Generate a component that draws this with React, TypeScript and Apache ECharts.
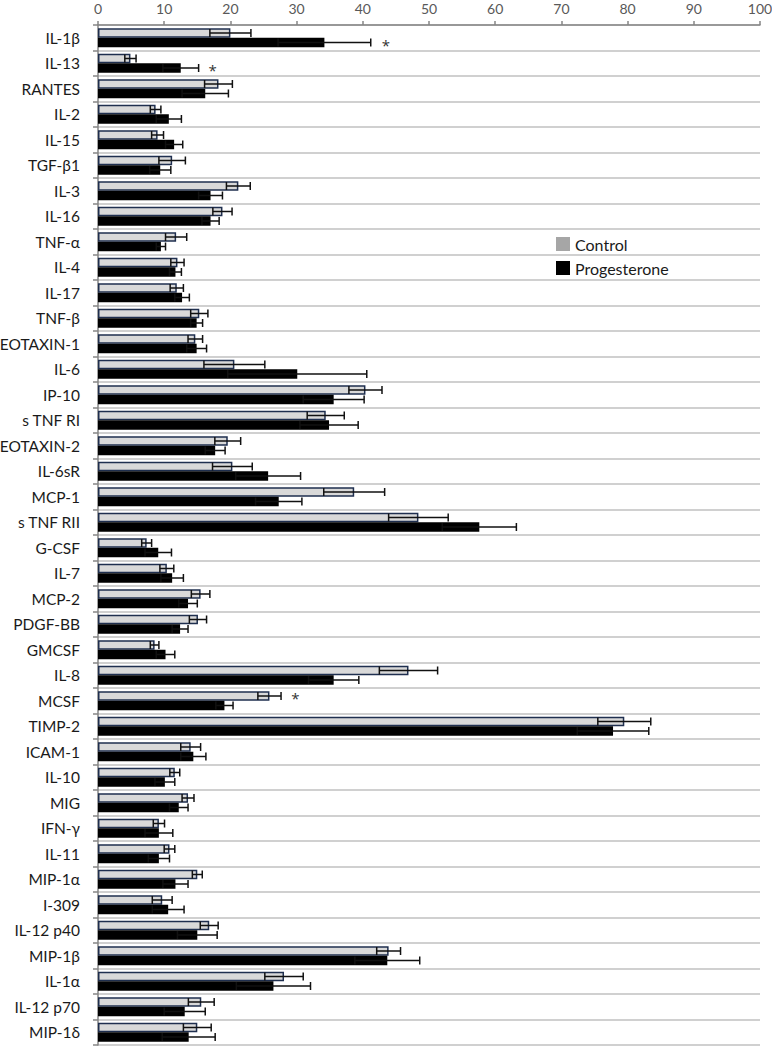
import React, { useEffect, useRef } from "react";
import * as echarts from "echarts";

const categories = [
  "IL-1β", "IL-13", "RANTES", "IL-2", "IL-15", "TGF-β1", "IL-3", "IL-16", "TNF-α", "IL-4",
  "IL-17", "TNF-β", "EOTAXIN-1", "IL-6", "IP-10", "s TNF RI", "EOTAXIN-2", "IL-6sR", "MCP-1", "s TNF RII",
  "G-CSF", "IL-7", "MCP-2", "PDGF-BB", "GMCSF", "IL-8", "MCSF", "TIMP-2", "ICAM-1", "IL-10",
  "MIG", "IFN-γ", "IL-11", "MIP-1α", "I-309", "IL-12 p40", "MIP-1β", "IL-1α", "IL-12 p70", "MIP-1δ",
];

const controlMean = [
  20.0, 4.9, 18.2, 8.7, 9.0, 11.2, 21.2, 18.8, 11.8, 12.0,
  11.9, 15.3, 14.7, 20.6, 40.4, 34.4, 19.6, 20.3, 38.7, 48.4,
  7.35, 10.4, 15.5, 15.1, 8.55, 46.9, 25.9, 79.5, 14.0, 11.6,
  13.6, 9.2, 10.8, 15.0, 9.7, 16.8, 43.9, 28.1, 15.6, 15.0,
];
const controlErr = [
  3.1, 0.85, 2.1, 0.8, 0.9, 2.0, 1.8, 1.45, 1.6, 1.0,
  1.0, 1.3, 1.1, 4.6, 2.5, 2.8, 1.95, 3.0, 4.6, 4.5,
  0.75, 1.05, 1.4, 1.3, 0.65, 4.4, 1.75, 4.0, 1.5, 0.75,
  0.9, 0.85, 0.8, 0.75, 1.5, 1.35, 1.8, 2.9, 1.95, 2.1,
];
const progMean = [
  34.2, 12.5, 16.2, 10.7, 11.5, 9.4, 17.0, 17.0, 9.5, 11.7,
  12.7, 14.9, 14.9, 30.1, 35.6, 34.9, 17.7, 25.7, 27.3, 57.6,
  9.1, 11.2, 13.6, 12.4, 10.2, 35.6, 19.1, 77.8, 14.4, 10.1,
  12.2, 9.2, 9.2, 11.7, 10.6, 15.0, 43.7, 26.5, 13.1, 13.7,
];
const progErr = [
  7.0, 2.7, 3.5, 1.9, 1.3, 1.6, 1.8, 1.3, 0.7, 0.9,
  1.1, 0.9, 1.5, 10.5, 4.6, 4.4, 1.5, 4.9, 3.5, 5.6,
  2.0, 1.7, 1.4, 1.2, 1.4, 3.8, 1.3, 5.4, 1.9, 1.5,
  1.4, 2.1, 1.6, 1.9, 2.4, 3.0, 4.9, 5.6, 3.1, 4.0,
];

// significance markers
const sigCategories = ["IL-1β", "IL-13", "MCSF"];
const sigSeries = ["Progesterone", "Progesterone", "Control"];
const sigX = [43.5, 17.3, 29.8];

const xTicks = { min: 0, max: 100, interval: 10 };

const BAR_W = 9.5;
const FONT = "Lato, 'Noto Sans', sans-serif";

export default function App() {
  const ref = useRef<HTMLDivElement>(null);

  useEffect(() => {
    if (!ref.current) return;
    const chart = echarts.init(ref.current, null, { renderer: "svg" });

    const errData = (means: number[], errs: number[]) =>
      means.map((m, i) => [i, m - errs[i], m + errs[i]]);

    const makeErrSeries = (name: string, means: number[], errs: number[], offset: number) => ({
      type: "custom",
      name: name + " error",
      silent: true,
      z: 5,
      data: errData(means, errs),
      encode: { y: 0, x: [1, 2] },
      renderItem: (params: any, api: any) => {
        const c = api.value(0);
        const lo = api.coord([api.value(1), c]);
        const hi = api.coord([api.value(2), c]);
        const y = lo[1] + offset;
        const h = 4;
        const style = { stroke: "#111", lineWidth: 1.5 };
        return {
          type: "group",
          children: [
            { type: "line", shape: { x1: lo[0], y1: y, x2: hi[0], y2: y }, style },
            { type: "line", shape: { x1: lo[0], y1: y - h, x2: lo[0], y2: y + h }, style },
            { type: "line", shape: { x1: hi[0], y1: y - h, x2: hi[0], y2: y + h }, style },
          ],
        };
      },
    });

    const option: any = {
      animation: false,
      textStyle: { fontFamily: FONT },
      grid: { left: 98, right: 12, top: 25, bottom: 3, containLabel: false, outerBoundsMode: "none" },
      legend: {
        orient: "vertical",
        left: 556,
        top: 236,
        padding: 0,
        itemWidth: 14,
        itemHeight: 14,
        itemGap: 8,
        icon: "rect",
        selectedMode: false,
        textStyle: { fontSize: 16, color: "#1a1a1a", fontFamily: FONT },
        data: [
          { name: "Control", itemStyle: { color: "#a6a6a6", borderWidth: 0 } },
          { name: "Progesterone", itemStyle: { color: "#000000", borderWidth: 0 } },
        ],
      },
      xAxis: {
        type: "value",
        position: "top",
        min: xTicks.min,
        max: xTicks.max,
        interval: xTicks.interval,
        axisLine: { show: true, lineStyle: { color: "#868686", width: 1.5 } },
        axisTick: { show: true, length: 4, lineStyle: { color: "#868686", width: 1.5 } },
        axisLabel: { fontSize: 14, color: "#595959", margin: 10, fontFamily: FONT },
        splitLine: { show: false },
      },
      yAxis: {
        type: "category",
        inverse: true,
        data: categories,
        axisLine: { show: true, lineStyle: { color: "#868686", width: 1.5 } },
        axisTick: { show: true, length: 5, interval: 0, lineStyle: { color: "#868686", width: 1.5 } },
        axisLabel: { fontSize: 15.5, color: "#1a1a1a", margin: 18, interval: 0, fontFamily: FONT },
        splitLine: { show: true, interval: 0, lineStyle: { color: "#c0c0c0", width: 1.5 } },
      },
      series: [
        {
          type: "bar",
          name: "Control",
          data: controlMean,
          barWidth: BAR_W,
          barGap: "0%",
          itemStyle: { color: "#d9d9d9", borderColor: "#1f2f4f", borderWidth: 1.5 },
          z: 2,
        },
        {
          type: "bar",
          name: "Progesterone",
          data: progMean,
          barWidth: BAR_W,
          barGap: "0%",
          itemStyle: { color: "#000000" },
          z: 2,
        },
        makeErrSeries("Control", controlMean, controlErr, -BAR_W / 2),
        makeErrSeries("Progesterone", progMean, progErr, BAR_W / 2),
        {
          type: "custom",
          name: "sig",
          silent: true,
          z: 6,
          data: sigCategories.map((c, i) => [categories.indexOf(c), sigX[i], sigSeries[i] === "Control" ? 0 : 1]),
          encode: { y: 0, x: 1 },
          renderItem: (params: any, api: any) => {
            const p = api.coord([api.value(1), api.value(0)]);
            const off = api.value(2) === 0 ? -BAR_W / 2 : BAR_W / 2;
            return {
              type: "text",
              x: p[0],
              y: p[1] + off + 2,
              style: {
                text: "*",
                fill: "#333",
                font: "15px 'Open Sans', sans-serif",
                align: "center",
                verticalAlign: "middle",
              },
            };
          },
        },
      ],
    };

    chart.setOption(option);
    return () => chart.dispose();
  }, []);

  return (
    <div
      ref={ref}
      style={{ position: "fixed", left: 0, top: 0, width: 772, height: 1048, background: "#fff" }}
    />
  );
}
